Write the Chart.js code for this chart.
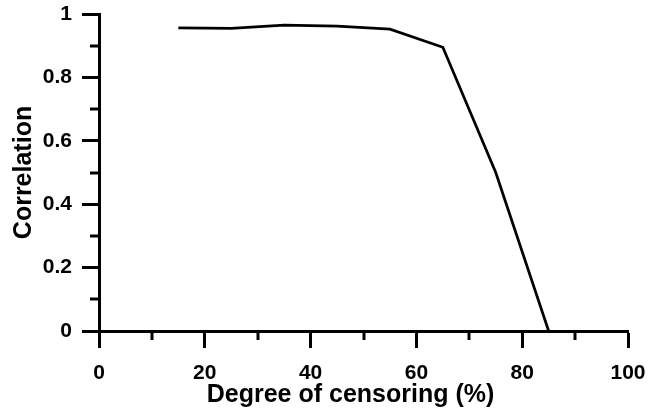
<!DOCTYPE html>
<html>
<head>
<meta charset="utf-8">
<script src="https://cdn.jsdelivr.net/npm/chart.js@4"></script>
<style>
  html, body { margin: 0; padding: 0; background: #fff; }
  #corrChart { display: block; }
</style>
</head>
<body>
<canvas id="corrChart" width="649" height="415"></canvas>
<script>
// values
const censoring = [15, 25, 35, 45, 55, 65, 75, 85];
const correlation = [0.956, 0.955, 0.965, 0.962, 0.952, 0.895, 0.5, 0];

const xTitle = 'Degree of censoring (%)';
const yTitle = 'Correlation';

const FONT = "'Liberation Sans', Arial, sans-serif";

const isMajorX = (v) => Math.round(v) % 20 === 0;
const isMajorY = (v) => Math.round(v * 10) % 2 === 0;

// short minor ticks + x title (the original sits a bit left of the plot centre)
const axisExtras = {
  id: 'axisExtras',
  afterDraw(chart) {
    const { ctx, scales, chartArea } = chart;
    ctx.save();
    ctx.strokeStyle = '#000';
    ctx.lineWidth = 3;
    scales.x.ticks.forEach(t => {
      if (isMajorX(t.value)) return;
      const px = Math.round(scales.x.getPixelForValue(t.value));
      ctx.beginPath();
      ctx.moveTo(px, scales.x.top);
      ctx.lineTo(px, scales.x.top + 9);
      ctx.stroke();
    });
    scales.y.ticks.forEach(t => {
      if (isMajorY(t.value)) return;
      const py = Math.round(scales.y.getPixelForValue(t.value));
      ctx.beginPath();
      ctx.moveTo(scales.y.right, py);
      ctx.lineTo(scales.y.right - 9, py);
      ctx.stroke();
    });

    ctx.fillStyle = '#000';
    ctx.font = `bold 25px ${FONT}`;
    ctx.textAlign = 'center';
    ctx.textBaseline = 'middle';
    ctx.fillText(xTitle, (chartArea.left + chartArea.right) / 2 - 13, chart.height - 20);
    ctx.restore();
  }
};

const ctx = document.getElementById('corrChart');

new Chart(ctx, {
  type: 'line',
  data: {
    datasets: [{
      data: censoring.map((x, i) => ({ x, y: correlation[i] })),
      borderColor: '#000',
      borderWidth: 2.75,
      pointRadius: 0,
      tension: 0,
      fill: false,
    }],
  },
  options: {
    responsive: false,
    animation: false,
    layout: { padding: 0 },
    plugins: { legend: { display: false }, tooltip: { enabled: false } },
    scales: {
      x: {
        type: 'linear',
        min: 0,
        max: 100,
        afterFit: (scale) => {
          scale.height = 84;
          scale.paddingLeft = 0;
          scale.paddingRight = 21;
        },
        border: { display: true, color: '#000', width: 3 },
        grid: {
          drawOnChartArea: false,
          tickLength: 17,
          tickWidth: 3,
          tickColor: (c) => (c.tick && isMajorX(c.tick.value) ? '#000' : 'rgba(0,0,0,0)'),
        },
        ticks: {
          stepSize: 10,
          autoSkip: false,
          maxRotation: 0,
          padding: 13,
          color: '#000',
          font: { family: FONT, size: 21, weight: 'bold' },
          callback: (v) => (isMajorX(v) ? String(v) : ''),
        },
        title: { display: false },
      },
      y: {
        type: 'linear',
        min: 0,
        max: 1,
        afterFit: (scale) => {
          scale.width = 99;
          scale.paddingTop = 14;
          scale.paddingBottom = 0;
        },
        border: { display: true, color: '#000', width: 3 },
        grid: {
          drawOnChartArea: false,
          tickLength: 17,
          tickWidth: 3,
          tickColor: (c) => (c.tick && isMajorY(c.tick.value) ? '#000' : 'rgba(0,0,0,0)'),
        },
        ticks: {
          stepSize: 0.1,
          autoSkip: false,
          padding: 10,
          color: '#000',
          font: { family: FONT, size: 21, weight: 'bold' },
          callback: (v) => (isMajorY(v) ? String(Math.round(v * 10) / 10) : ''),
        },
        title: {
          display: true,
          text: yTitle,
          color: '#000',
          padding: { top: 9, bottom: 0 },
          font: { family: FONT, size: 25, weight: 'bold' },
        },
      },
    },
  },
  plugins: [axisExtras],
});
</script>
</body>
</html>
